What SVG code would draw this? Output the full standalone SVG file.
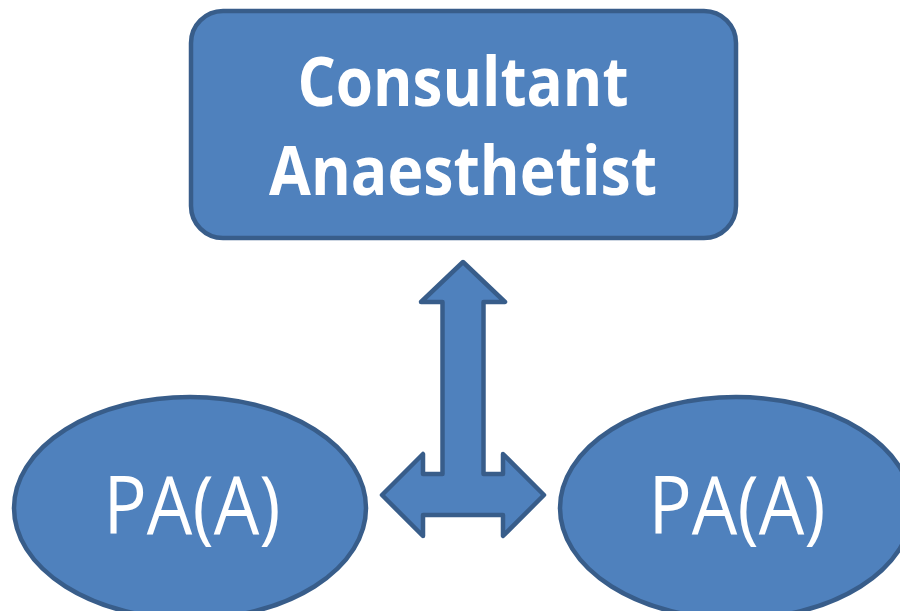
<svg xmlns="http://www.w3.org/2000/svg" width="900" height="611" viewBox="0 0 900 611">
<style>
.shape{fill:#4f81bd;stroke:#385d8a;stroke-width:4.5;stroke-linejoin:round}
.t{fill:#ffffff;font-family:"Open Sans","Liberation Sans",sans-serif;text-anchor:middle}
.b{font-weight:bold;font-size:68px}
.r{font-size:80px}
</style>
<rect width="900" height="611" fill="#ffffff"/>
<g id="connectors">
<path class="shape" d="M463,262 L505,302 L483.5,302 L483.5,474 L503,474 L503,454 L544,495 L503,536 L503,515 L423,515 L423,536 L382,495 L423,454 L423,474 L442.5,474 L442.5,302 L421,302 Z"/>
</g>
<g id="consultant">
<rect class="shape" x="191" y="11" width="545" height="227" rx="32" ry="32"/>
<text class="t b" x="463" y="106" textLength="331" lengthAdjust="spacingAndGlyphs">Consultant</text>
<text class="t b" x="463" y="195" textLength="388" lengthAdjust="spacingAndGlyphs">Anaesthetist</text>
</g>
<g id="pa-left">
<ellipse class="shape" cx="190" cy="508" rx="176" ry="111"/>
<text class="t r" x="192" y="534" textLength="177" lengthAdjust="spacingAndGlyphs">PA(A)</text>
</g>
<g id="pa-right">
<ellipse class="shape" cx="736" cy="508" rx="176" ry="111"/>
<text class="t r" x="737" y="534" textLength="177" lengthAdjust="spacingAndGlyphs">PA(A)</text>
</g>
</svg>
